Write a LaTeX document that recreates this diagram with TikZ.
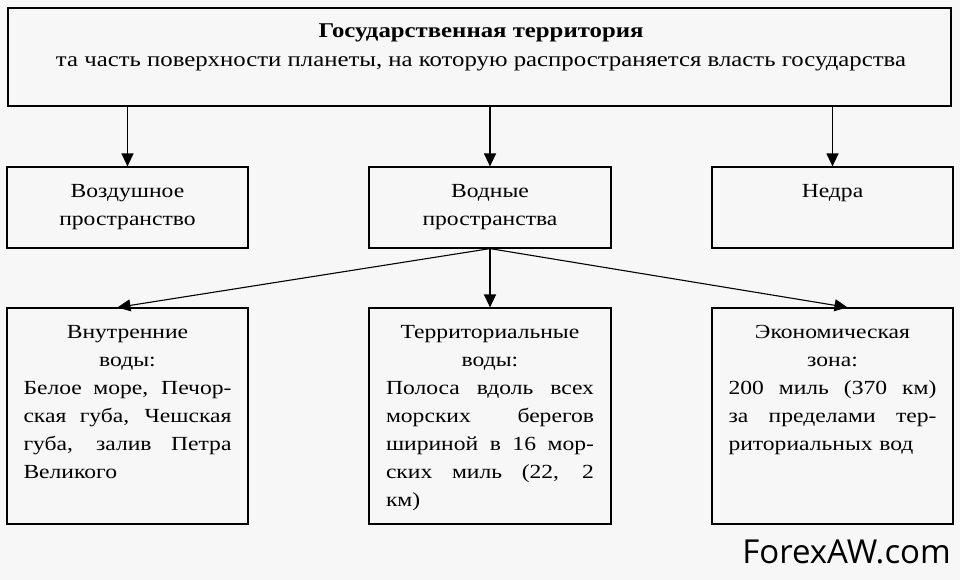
\documentclass[tikz,border=0pt]{standalone}
\usepackage{fontspec}
\setmainfont{Liberation Serif}[FakeStretch=1.18]
\setsansfont{Open Sans}
\usetikzlibrary{arrows.meta}

\tikzset{
  box/.style={draw,rectangle,line width=1.2pt,inner sep=0pt},
  txt/.style={inner sep=0pt,align=center,font=\fontsize{20}{28}\selectfont},
  par/.style={inner sep=0pt,text width=208pt,align=left,font=\fontsize{20}{28}\selectfont},
  arr/.style={line width=1.3pt,-{Triangle[length=13pt,width=12pt]}},
}
\newcommand{\jl}[1]{{\spaceskip=0pt\xspaceskip=0pt\makebox[208pt][s]{#1}}}
\newcommand{\cl}[1]{\makebox[208pt][c]{#1}}

\begin{document}
\begin{tikzpicture}[x=1pt,y=-1pt]
\fill[black!3] (0,0) rectangle (960,580);
\useasboundingbox (0,0) rectangle (960,580);

\node [box,minimum width=943pt,minimum height=98pt] (st) at(479.5,57){};
\node [txt,font=\fontsize{21}{29}\selectfont,anchor=north] (stt) at(481,23.5)
  {\textbf{Государственная территория}\\та часть поверхности планеты, на которую распространяется власть государства};

\node [box,minimum width=241pt,minimum height=81pt] (air) at(127.5,207.5){};
\node [box,minimum width=242pt,minimum height=81pt] (water) at(490,207.5){};
\node [box,minimum width=241pt,minimum height=81pt] (nedra) at(832.5,207.5){};
\node [txt,anchor=north] (airt) at([yshift=-17.6pt]air.north){Воздушное\\пространство};
\node [txt,anchor=north] (watert) at([yshift=-17.6pt]water.north){Водные\\пространства};
\node [txt,anchor=north] (nedrat) at([yshift=-17.6pt]nedra.north){Недра};

\node [box,minimum width=241pt,minimum height=216pt] (inner) at(127.5,416){};
\node [box,minimum width=242pt,minimum height=216pt] (terr) at(490,416){};
\node [box,minimum width=241pt,minimum height=216pt] (econ) at(832.5,416){};
\node [par,anchor=north] (innert) at([yshift=-17.6pt]inner.north){%
  \cl{Внутренние}\\\cl{воды:}\\\jl{Белое море, Печор-}\\\jl{ская губа, Чешская}\\\jl{губа, залив Петра}\\Великого};
\node [par,anchor=north] (terrt) at([yshift=-17.6pt]terr.north){%
  \cl{Территориальные}\\\cl{воды:}\\\jl{Полоса вдоль всех}\\\jl{морских берегов}\\\jl{шириной в 16 мор-}\\\jl{ских миль (22, 2}\\км)};
\node [par,anchor=north] (econt) at([yshift=-17.6pt]econ.north){%
  \cl{Экономическая}\\\cl{зона:}\\\jl{200 миль (370 км)}\\\jl{за пределами тер-}\\риториальных вод};

\node [anchor=base east,inner sep=0pt,font=\sffamily\fontsize{33}{33}\selectfont] (wm) at(951,563){ForexAW.com};

\draw[arr](st.south -| air.north) -- (air.north);
\draw[arr](st.south -| water.north) -- (water.north);
\draw[arr](st.south -| nedra.north) -- (nedra.north);
\draw[arr](water.south) -- (terr.north);
\draw[arr,line width=1.1pt](water.south) -- ([xshift=-10pt]inner.north);
\draw[arr,line width=1.1pt](water.south) -- ([xshift=15pt]econ.north);
\end{tikzpicture}
\end{document}
